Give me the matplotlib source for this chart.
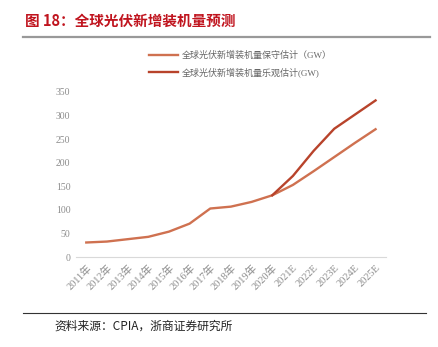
import matplotlib
matplotlib.use('Agg')

import matplotlib.pyplot as plt
from matplotlib.lines import Line2D

plt.rcParams['font.family'] = ['Liberation Serif', 'Noto Sans CJK SC', 'DejaVu Sans']

years = ['2011年', '2012年', '2013年', '2014年', '2015年', '2016年', '2017年',
         '2018年', '2019年', '2020年', '2021E', '2022E', '2023E', '2024E', '2025E']
conservative = [31, 33, 38, 43, 54, 71, 103, 107, 117, 131, 153, 182, 212, 242, 271]
optimistic = [None] * 9 + [131, 172, 225, 272, 302, 332]

label_cons = '全球光伏新增装机量保守估计（GW）'
label_opt = '全球光伏新增装机量乐观估计(GW)'

c_cons = '#cf7150'
c_opt = '#b8432b'
grey = '#8c8c8c'

fig = plt.figure(figsize=(4.39, 3.47), dpi=100)

# 标题和分隔线
fig.text(0.057, 0.940, '图 18：全球光伏新增装机量预测', color='#c0141e', fontsize=10.5,
         fontweight='bold', family=['Noto Sans CJK SC'], va='center')
fig.add_artist(Line2D([0.052, 0.98], [0.893, 0.893], color='#999999', lw=1.6))
fig.add_artist(Line2D([0.052, 0.97], [0.098, 0.098], color='#333333', lw=0.8))
fig.text(0.125, 0.060, '资料来源：CPIA，浙商证券研究所', fontsize=8.5, color='#222222',
         family=['Noto Sans CJK SC'], va='center')

ax = fig.add_axes([0.173, 0.259, 0.706, 0.476])
x = list(range(len(years)))
ax.plot(x, conservative, color=c_cons, lw=1.7, label=label_cons)
opt_x = [i for i, v in zip(x, optimistic) if v is not None]
opt_y = [v for v in optimistic if v is not None]
ax.plot(opt_x, opt_y, color=c_opt, lw=1.7, label=label_opt)

ax.set_xlim(-0.5, len(years) - 0.5)
ax.set_ylim(0, 350)
ax.set_yticks(range(0, 351, 50))
ax.set_xticks(x)
ax.set_xticklabels(years, rotation=45, ha='right', rotation_mode='anchor')
ax.tick_params(axis='both', length=0, labelsize=7, colors=grey, pad=4)
ax.tick_params(axis='x', labelsize=7.5)
for s in ['top', 'right', 'left']:
    ax.spines[s].set_visible(False)
ax.spines['bottom'].set_color('#d9d9d9')

leg = ax.legend(loc='lower left', bbox_to_anchor=(0.21, 1.04), frameon=False,
                fontsize=6.5, handlelength=3.2, labelspacing=0.8, handletextpad=0.4)
for t in leg.get_texts():
    t.set_color('#666666')

fig.savefig('out.png', dpi=100)
